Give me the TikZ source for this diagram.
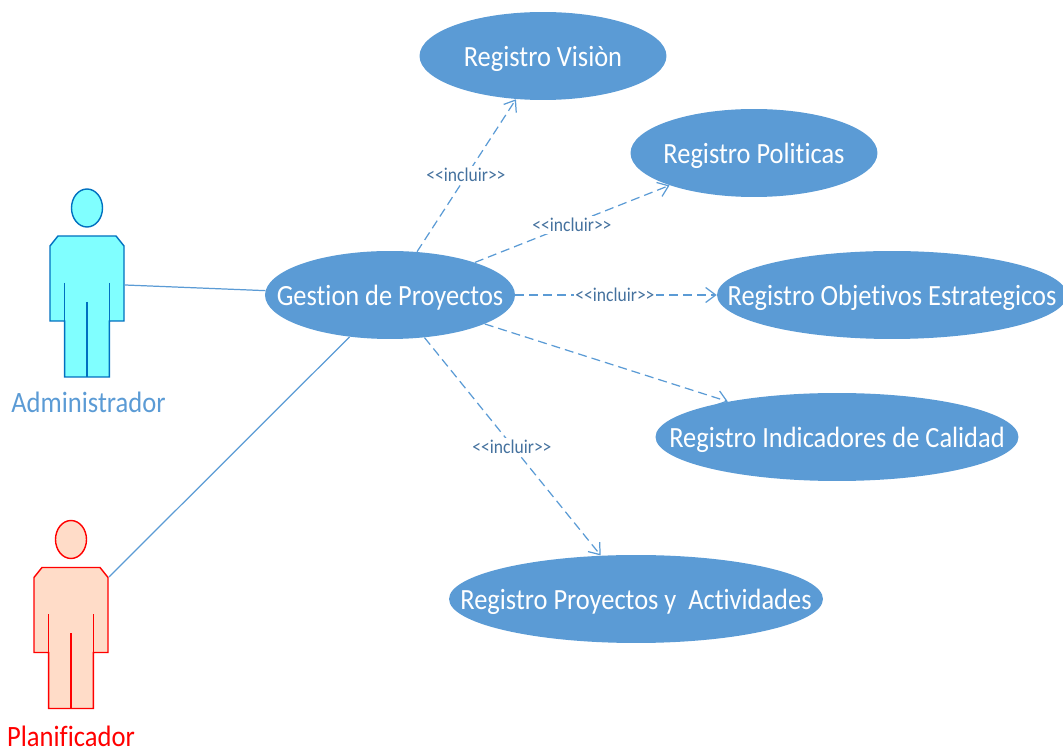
\documentclass[tikz,border=0pt]{standalone}
\usepackage{fontspec}
\setmainfont{Carlito}[FakeStretch=0.9,Ligatures=NoCommon]
\usetikzlibrary{arrows.meta,shapes.geometric}
\definecolor{casoblue}{HTML}{5B9BD5}
\definecolor{incluirblue}{HTML}{44719E}
\definecolor{adminline}{HTML}{0070C0}
\definecolor{adminfill}{HTML}{80FFFF}
\definecolor{planfill}{HTML}{FFDCC8}
\tikzset{
    caso/.style={ellipse,fill=casoblue,text=white,inner sep=0pt,minimum height=1.76cm,font=\fontsize{16.7}{20}\selectfont},
    incluir/.style={fill=white,text=incluirblue,inner sep=1pt,font=\fontsize{11.1}{13}\selectfont},
    rol/.style={anchor=base,inner sep=0pt,font=\fontsize{16.8}{20}\selectfont},
    include/.style={draw=casoblue,line width=0.7pt,dash pattern=on 0.18cm off 0.1cm,-{Straight Barb[length=0.2cm,width=0.3cm]}},
    assoc/.style={draw=casoblue,line width=0.7pt}
}
% keeps the ellipse size independent of its text
\newcommand{\casotext}[1]{\smash{\makebox[0pt]{\raisebox{-5.9pt}{#1}}}}
\newcommand{\actorfig}[4]{
    \begin{scope}[shift={(#1,#2)},draw=#4,fill=#3,line width=0.8pt]
        \filldraw (0,-28) ellipse [x radius=15.5,y radius=19];
        \filldraw (-37,10) -- (-29,0) -- (29,0) -- (37,10) -- (37,85) -- (22.3,85) -- (22.3,141) -- (-22.3,141) -- (-22.3,85) -- (-37,85) -- cycle;
        \draw (-22.3,47) -- (-22.3,85);
        \draw (22.3,47) -- (22.3,85);
        \draw (0,66) -- (0,141);
    \end{scope}
}
\begin{document}
\begin{tikzpicture}[x=0.02cm,y=-0.02cm]
    \useasboundingbox (0,0) rectangle (1063,749);
    \coordinate (A) at (125,285);
    \coordinate (P) at (109,577);
    \actorfig{87}{236}{adminfill}{adminline}
    \actorfig{71}{567.5}{planfill}{red}
    \node[rol,text=casoblue] (Admin) at (88.5,413) {Administrador};
    \node[rol,text=red] (Plan) at (71,747) {Planificador};
    % casos de uso
    \node[caso,minimum width=5cm] (G) at (390,295) {\casotext{Gestion de Proyectos}};
    \node[caso,minimum width=4.94cm] (V) at (543,56) {\casotext{Registro Visiòn}};
    \node[caso,minimum width=4.94cm] (Po) at (754,153) {\casotext{Registro Politicas}};
    \node[caso,minimum width=7cm] (O) at (892,295) {\casotext{Registro Objetivos Estrategicos}};
    \node[caso,minimum width=7.26cm] (I) at (837,437) {\casotext{Registro Indicadores de Calidad}};
    \node[caso,minimum width=7.48cm] (Pr) at (636,599) {\casotext{Registro Proyectos y\ \ Actividades}};
    \draw[assoc] (A) -- (G.178);
    \draw[assoc] (P) -- (G.226);
    \draw[include] (G.58) -- (V.238);
    \draw[include] (G.21) -- (Po.201);
    \draw[include] (G.east) -- (O.west);
    \draw[include] (G.-17.5) -- (I.162.6);
    \draw[include] (G.-51.7) -- (Pr.129.3);
    \node[incluir] (L1) at (466,175) {<{}<incluir>{}>};
    \node[incluir] (L2) at (572,225) {<{}<incluir>{}>};
    \node[incluir] (L3) at (615,295) {<{}<incluir>{}>};
    \node[incluir] (L4) at (512,447) {<{}<incluir>{}>};
\end{tikzpicture}
\end{document}
